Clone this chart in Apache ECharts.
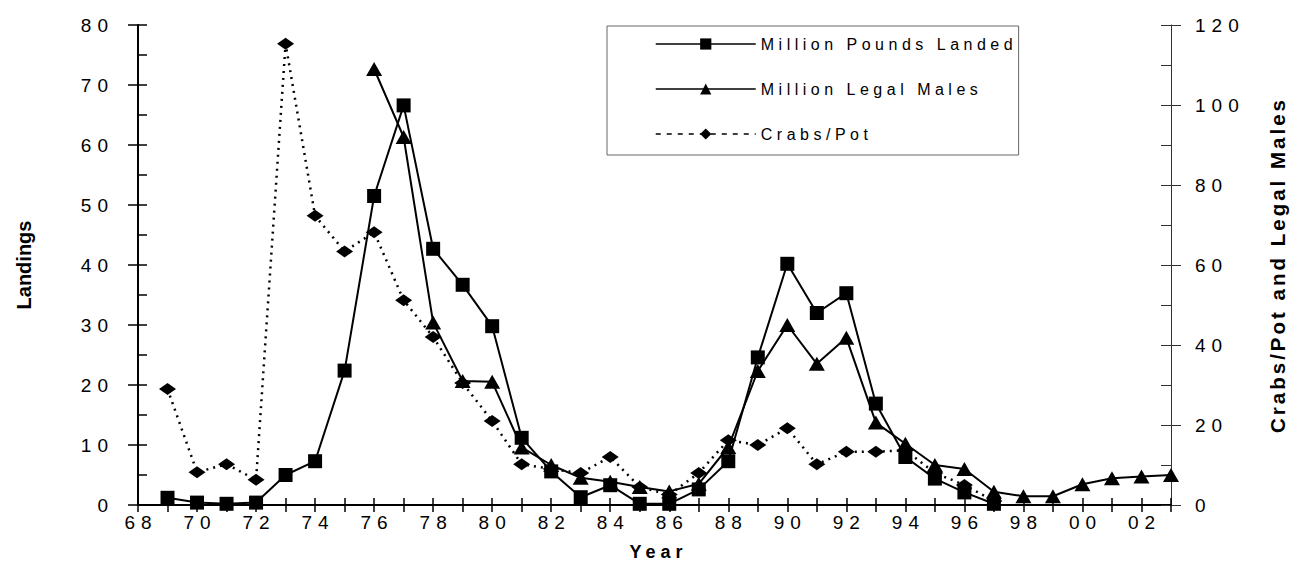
<!DOCTYPE html>
<html>
<head>
<meta charset="utf-8">
<script src="https://cdn.jsdelivr.net/npm/echarts@6/dist/echarts.min.js"></script>
<style>
  html, body { margin: 0; padding: 0; background: #fff; }
  #main { width: 1296px; height: 581px; }
  /* spaced-out lettering like the original (svg text) */
  #main text[style*="19px"] { letter-spacing: 6px; }
  #main text[style*="16px"] { letter-spacing: 4.5px; }
  #main text[style*="18px"] { letter-spacing: 5px; }
  #main text[style*="20.5px"] { letter-spacing: 3px; }
</style>
</head>
<body>
<div id="main"></div>
<script>
// Million Pounds Landed (left axis), 1969-1997
var landYears = [1969,1970,1971,1972,1973,1974,1975,1976,1977,1978,1979,1980,1981,1982,1983,1984,1985,1986,1987,1988,1989,1990,1991,1992,1993,1994,1995,1996,1997];
var landings = [1.2,0.4,0.2,0.4,5,7.3,22.4,51.5,66.6,42.7,36.7,29.8,11.2,5.6,1.3,3.3,0.2,0.2,2.6,7.3,24.6,40.2,32,35.3,16.9,8,4.4,2.1,0.2];

// Million Legal Males (right axis), 1976-2003
var maleYears = [1976,1977,1978,1979,1980,1981,1982,1983,1984,1985,1986,1987,1988,1989,1990,1991,1992,1993,1994,1995,1996,1997,1998,1999,2000,2001,2002,2003];
var legalMales = [109,92,45.6,31,30.8,14.4,10,6.8,5.8,4.5,3.4,5.3,14.5,33.5,45,35.3,41.8,20.6,15.3,10,9,3.3,2.2,2.2,5.2,6.7,7.1,7.5];

// Crabs/Pot (right axis), 1969-1997
var crabYears = [1969,1970,1971,1972,1973,1974,1975,1976,1977,1978,1979,1980,1981,1982,1983,1984,1985,1986,1987,1988,1989,1990,1991,1992,1993,1994,1995,1996,1997];
var crabsPot = [29,8.2,10.2,6.3,115.3,72.3,63.4,68.2,51.2,42,30.5,21,10.2,9,8,12,4.5,2.6,8,16.2,15,19.2,10.2,13.3,13.3,13.7,8,5,1];

var seriesNames = ['Million Pounds Landed', 'Million Legal Males', 'Crabs/Pot'];

function pairs(xs, ys) {
  var out = [];
  for (var i = 0; i < xs.length; i++) {
    out.push([xs[i], ys[i]]);
  }
  return out;
}

var font = 'Arial, "Liberation Sans"';

var myChart = echarts.init(document.getElementById('main'), null, { renderer: 'svg' });

var option = {
  animation: false,
  backgroundColor: '#fff',
  grid: { left: 138, right: 123, top: 25, bottom: 76 },
  legend: {
    orient: 'vertical',
    left: 607,
    top: 26,
    // right padding also makes room for the letter spacing, which echarts does not measure
    padding: [10, 96, 13, 48],
    borderColor: '#666',
    borderWidth: 1,
    itemWidth: 100,
    itemHeight: 14,
    itemGap: 29,
    data: [
      { name: seriesNames[0], lineStyle: { width: 1.5 } },
      { name: seriesNames[1], lineStyle: { width: 1.5 } },
      { name: seriesNames[2], lineStyle: { width: 1.5, type: [5, 6] } }
    ],
    textStyle: { fontFamily: font, fontSize: 16, color: '#000' }
  },
  xAxis: [
    {
      type: 'value',
      min: 1968,
      max: 2003,
      interval: 1,
      position: 'bottom',
      name: 'Year',
      nameLocation: 'middle',
      nameGap: 38,
      nameTextStyle: { fontFamily: font, fontWeight: 'bold', fontSize: 18, color: '#000', padding: [0, 0, 0, 8] },
      axisLine: { lineStyle: { color: '#000', width: 2 } },
      axisTick: { length: 7, lineStyle: { color: '#000', width: 1.5 } },
      axisLabel: {
        fontFamily: font, fontSize: 19, color: '#000', margin: 8, padding: [0, 0, 0, 6],
        formatter: function (v) {
          if (v % 2 !== 0 || v === 2003) return '';
          var s = String(v % 100);
          return s.length < 2 ? '0' + s : s;
        }
      },
      splitLine: { show: false }
    },
    {
      type: 'value',
      min: 1968,
      max: 2003,
      interval: 1,
      position: 'bottom',
      axisLine: { show: false },
      axisTick: { inside: true, length: 7, lineStyle: { color: '#000', width: 1.5 } },
      axisLabel: { show: false },
      splitLine: { show: false }
    }
  ],
  yAxis: [
    {
      type: 'value',
      min: 0,
      max: 80,
      interval: 10,
      position: 'left',
      name: 'Landings',
      nameLocation: 'middle',
      nameGap: 104,
      nameTextStyle: { fontFamily: font, fontWeight: 'bold', fontSize: 20, color: '#000' },
      axisLine: { show: true, lineStyle: { color: '#000', width: 2 } },
      axisTick: { show: true, length: 10, lineStyle: { color: '#000', width: 1.5 } },
      axisLabel: { fontFamily: font, fontSize: 19, color: '#000', margin: 24 },
      splitLine: { show: false }
    },
    {
      type: 'value',
      min: 0,
      max: 80,
      interval: 5,
      position: 'left',
      axisLine: { show: false },
      axisTick: { show: true, inside: true, length: 9, lineStyle: { color: '#000', width: 1.5 } },
      axisLabel: { show: false },
      splitLine: { show: false }
    },
    {
      type: 'value',
      min: 0,
      max: 120,
      interval: 20,
      position: 'right',
      name: 'Crabs/Pot and Legal Males',
      nameLocation: 'middle',
      nameGap: 96,
      nameRotate: 90,
      nameTextStyle: { fontFamily: font, fontWeight: 'bold', fontSize: 20.5, color: '#000' },
      axisLine: { show: true, lineStyle: { color: '#333', width: 1 } },
      axisTick: { show: true, length: 10, lineStyle: { color: '#333', width: 1 } },
      axisLabel: { fontFamily: font, fontSize: 19, color: '#000', margin: 24 },
      splitLine: { show: false }
    },
    {
      type: 'value',
      min: 0,
      max: 120,
      interval: 10,
      position: 'right',
      axisLine: { show: false },
      axisTick: { show: true, inside: true, length: 10, lineStyle: { color: '#333', width: 1 } },
      axisLabel: { show: false },
      splitLine: { show: false }
    }
  ],
  series: [
    {
      name: seriesNames[0],
      type: 'line',
      xAxisIndex: 0,
      yAxisIndex: 0,
      data: pairs(landYears, landings),
      symbol: 'rect',
      symbolSize: 14,
      itemStyle: { color: '#000' },
      lineStyle: { color: '#000', width: 2 },
      z: 3
    },
    {
      name: seriesNames[1],
      type: 'line',
      xAxisIndex: 0,
      yAxisIndex: 2,
      data: pairs(maleYears, legalMales),
      symbol: 'triangle',
      symbolSize: [16, 14],
      itemStyle: { color: '#000' },
      lineStyle: { color: '#000', width: 2 },
      z: 3
    },
    {
      name: seriesNames[2],
      type: 'line',
      xAxisIndex: 0,
      yAxisIndex: 2,
      data: pairs(crabYears, crabsPot),
      symbol: 'diamond',
      symbolSize: [17, 12],
      itemStyle: { color: '#000' },
      lineStyle: { color: '#000', width: 2.5, type: [2, 5] },
      z: 2
    }
  ]
};

myChart.setOption(option);
</script>
</body>
</html>
